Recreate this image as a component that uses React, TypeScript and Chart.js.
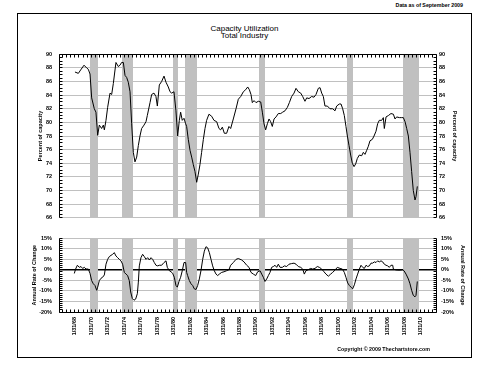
import React, { useEffect, useRef } from 'react';
import { Chart, registerables } from 'chart.js';

Chart.register(...registerables);

const FONT = '"Liberation Sans", Arial, sans-serif';
Chart.defaults.font.family = FONT;

// x range (decimal years)
const X_MIN = 1966.15;
const X_MAX = 2011.96;

// Capacity utilization, total industry (% of capacity)
const cuYears = [
  1968.09, 1968.5, 1968.78, 1969.19, 1969.51, 1969.71, 1969.92, 1970.12, 1970.44, 1970.64,
  1970.85, 1971.05, 1971.33, 1971.54, 1971.66, 1971.86, 1972.06, 1972.35, 1972.55, 1972.75,
  1973.07, 1973.36, 1973.56, 1973.76, 1973.97, 1974.17, 1974.37, 1974.57, 1974.78, 1974.98,
  1975.18, 1975.38, 1975.59, 1975.79, 1975.99, 1976.19, 1976.48, 1976.72, 1976.88, 1977.21,
  1977.41, 1977.69, 1977.93, 1978.1, 1978.34, 1978.62, 1978.91, 1979.15, 1979.43, 1979.64,
  1979.84, 1980.12, 1980.36, 1980.57, 1980.77, 1980.93, 1981.13, 1981.34, 1981.54, 1981.66,
  1981.86, 1982.07, 1982.27, 1982.47, 1982.67, 1982.88, 1983.08, 1983.28, 1983.48, 1983.69,
  1983.89, 1984.09, 1984.37, 1984.7, 1984.98, 1985.31, 1985.59, 1985.79, 1986.0, 1986.24,
  1986.52, 1986.8, 1987.01, 1987.33, 1987.66, 1987.94, 1988.23, 1988.55, 1988.83, 1989.08,
  1989.28, 1989.48, 1989.64, 1989.85, 1990.09, 1990.37, 1990.66, 1990.86, 1991.06, 1991.26,
  1991.47, 1991.67, 1991.87, 1992.07, 1992.28, 1992.52, 1992.8, 1993.09, 1993.33, 1993.61,
  1993.9, 1994.14, 1994.42, 1994.71, 1994.95, 1995.23, 1995.52, 1995.76, 1996.04, 1996.25,
  1996.53, 1996.85, 1997.14, 1997.38, 1997.66, 1997.87, 1998.07, 1998.27, 1998.47, 1998.76,
  1999.08, 1999.4, 1999.69, 1999.89, 2000.21, 2000.42, 2000.62, 2000.82, 2001.02, 2001.19,
  2001.39, 2001.59, 2001.79, 2002.0, 2002.2, 2002.4, 2002.64, 2002.93, 2003.13, 2003.33,
  2003.54, 2003.74, 2003.94, 2004.22, 2004.43, 2004.67, 2004.87, 2005.07, 2005.36, 2005.56,
  2005.68, 2005.89, 2006.17, 2006.49, 2006.78, 2006.98, 2007.18, 2007.51, 2007.79, 2007.99,
  2008.2, 2008.4, 2008.6, 2008.8, 2009.0, 2009.2, 2009.41, 2009.53, 2009.69,
];
const cuValues = [
  87.4, 87.2, 87.7, 88.4, 88.0, 87.8, 87.1, 83.6, 82.0, 81.5,
  78.1, 79.6, 79.1, 79.6, 78.9, 80.3, 82.2, 84.3, 84.1, 85.7,
  88.8, 88.2, 88.4, 88.8, 88.8, 86.9, 86.6, 85.9, 84.5, 79.8,
  75.6, 74.2, 74.9, 76.6, 78.0, 79.1, 79.6, 80.1, 81.0, 82.9,
  84.1, 84.3, 83.8, 82.4, 85.5, 86.0, 86.8, 85.9, 85.2, 84.5,
  84.3, 84.5, 81.7, 78.0, 80.3, 81.5, 80.3, 80.6, 79.8, 79.4,
  77.5, 75.9, 74.9, 73.8, 72.8, 71.2, 72.4, 73.8, 75.6, 77.5,
  79.1, 80.3, 81.2, 80.9, 80.3, 80.1, 79.1, 78.9, 79.3, 78.4,
  78.4, 79.4, 79.1, 80.5, 82.0, 83.4, 83.8, 84.5, 84.8, 85.2,
  84.8, 84.1, 82.9, 83.2, 82.9, 83.1, 83.0, 81.5, 79.8, 78.9,
  79.8, 80.5, 80.1, 79.4, 80.5, 80.8, 81.3, 81.3, 81.5, 81.7,
  82.2, 82.9, 83.8, 84.3, 85.0, 84.5, 84.3, 83.8, 83.1, 83.6,
  83.5, 83.8, 83.7, 84.1, 85.0, 85.1, 84.3, 83.8, 82.4, 82.4,
  82.0, 82.0, 81.7, 82.4, 82.7, 82.7, 82.0, 81.0, 79.4, 78.0,
  76.6, 75.2, 74.0, 73.5, 73.9, 74.7, 75.2, 75.1, 75.6, 75.3,
  75.9, 76.5, 77.3, 77.5, 78.0, 78.7, 79.8, 80.3, 80.3, 80.7,
  79.1, 80.8, 81.0, 81.3, 81.2, 80.5, 80.8, 80.7, 80.7, 80.7,
  80.1, 79.1, 78.0, 75.6, 72.8, 70.0, 68.6, 69.1, 70.6,
];

// Annual rate of change (%)
const rocYears = [
  1968.01, 1968.17, 1968.38, 1968.62, 1968.82, 1969.02, 1969.23, 1969.43, 1969.71, 1969.92,
  1970.12, 1970.32, 1970.52, 1970.73, 1970.85, 1971.05, 1971.25, 1971.45, 1971.66, 1971.86,
  1972.06, 1972.26, 1972.47, 1972.67, 1972.87, 1973.07, 1973.28, 1973.48, 1973.68, 1973.88,
  1974.09, 1974.29, 1974.49, 1974.69, 1974.86, 1975.06, 1975.26, 1975.46, 1975.67, 1975.79,
  1975.91, 1976.11, 1976.31, 1976.52, 1976.72, 1976.92, 1977.13, 1977.33, 1977.53, 1977.73,
  1977.93, 1978.14, 1978.34, 1978.62, 1978.91, 1979.15, 1979.31, 1979.56, 1979.76, 1979.96,
  1980.16, 1980.36, 1980.53, 1980.73, 1980.93, 1981.13, 1981.34, 1981.54, 1981.66, 1981.78,
  1981.99, 1982.19, 1982.39, 1982.59, 1982.8, 1983.0, 1983.2, 1983.4, 1983.61, 1983.81,
  1984.01, 1984.21, 1984.42, 1984.62, 1984.82, 1985.02, 1985.23, 1985.43, 1985.63, 1985.91,
  1986.2, 1986.52, 1986.8, 1987.01, 1987.33, 1987.66, 1987.94, 1988.35, 1988.63, 1988.96,
  1989.24, 1989.48, 1989.77, 1990.05, 1990.29, 1990.58, 1990.78, 1990.98, 1991.18, 1991.39,
  1991.59, 1991.79, 1991.99, 1992.2, 1992.4, 1992.6, 1992.8, 1993.01, 1993.29, 1993.53,
  1993.82, 1994.1, 1994.42, 1994.71, 1994.95, 1995.23, 1995.52, 1995.76, 1995.96, 1996.16,
  1996.45, 1996.73, 1996.97, 1997.26, 1997.54, 1997.79, 1998.07, 1998.35, 1998.59, 1998.88,
  1999.16, 1999.4, 1999.69, 1999.97, 2000.3, 2000.58, 2000.82, 2001.02, 2001.23, 2001.43,
  2001.63, 2001.83, 2002.04, 2002.24, 2002.44, 2002.65, 2002.85, 2003.05, 2003.25, 2003.46,
  2003.66, 2003.86, 2004.06, 2004.26, 2004.47, 2004.67, 2004.87, 2005.07, 2005.28, 2005.48,
  2005.68, 2005.89, 2006.09, 2006.29, 2006.49, 2006.7, 2006.78, 2006.98, 2007.26, 2007.59,
  2007.91, 2008.07, 2008.32, 2008.6, 2008.8, 2009.0, 2009.2, 2009.41, 2009.53, 2009.69,
];
const rocValues = [
  -1.7, 0.4, 2.2, 1.2, 1.6, 0.7, 1.2, 0.4, 0.4, -1.7,
  -5.1, -6.6, -7.4, -9.7, -8.2, -5.1, -4.0, -3.5, -2.4, 2.7,
  5.0, 6.3, 6.9, 7.4, 8.2, 6.6, 5.8, 5.0, 4.3, 2.7,
  -1.2, -2.0, -2.7, -5.1, -10.5, -13.6, -14.4, -13.9, -11.3, -5.8,
  1.9, 5.8, 7.4, 6.3, 5.0, 5.8, 4.7, 5.8, 5.0, 3.5,
  2.2, 1.9, 2.2, 2.2, 3.5, 4.3, 1.2, -0.4, -0.9, -1.6,
  -3.5, -7.4, -8.2, -5.5, -3.5, -0.4, 3.5, 3.5, -1.2, -2.7,
  -5.1, -6.6, -7.4, -9.0, -9.3, -7.4, -4.3, -0.4, 5.0, 8.9,
  11.0, 10.5, 8.2, 5.0, 1.9, -0.4, -2.0, -2.7, -2.0, -1.2,
  -0.9, -0.4, 0.1, 2.2, 3.5, 5.0, 5.4, 4.7, 3.8, 2.2,
  1.2, -1.2, -2.0, -2.7, -0.9, -0.4, -2.0, -3.5, -5.5, -4.3,
  -2.7, -1.2, 1.2, 1.6, 2.2, 1.2, 2.7, 1.2, 1.2, 1.9,
  1.6, 2.7, 3.0, 3.2, 2.7, 1.6, 1.2, 0.4, -2.0, -0.4,
  0.1, 0.7, 0.4, 0.7, 1.6, 1.2, 0.4, -0.9, -2.0, -3.0,
  -2.0, -1.2, -0.1, 1.2, 0.7, 0.4, -1.2, -3.5, -6.2, -7.4,
  -8.2, -9.0, -7.1, -4.3, -2.0, 0.4, 2.2, 1.2, 0.7, 2.2,
  1.6, 1.9, 3.2, 3.2, 3.8, 3.5, 4.3, 3.8, 4.3, 3.8,
  2.7, 2.2, 1.9, 1.2, 2.2, 2.2, 0.4, 0.1, -0.1, -0.1,
  0.1, -0.4, -2.0, -4.3, -6.6, -9.7, -12.1, -12.8, -12.1, -5.5,
];

// Recession periods (shaded)
const recessionStarts = [1969.92, 1973.83, 1980.0, 1981.5, 1990.5, 2001.17, 2007.92];
const recessionEnds = [1970.85, 1975.2, 1980.58, 1982.88, 1991.18, 2001.85, 2009.85];

// x-axis tick labels
const xTickYears = [
  1968.08, 1970.08, 1972.08, 1974.08, 1976.08, 1978.08, 1980.08, 1982.08, 1984.08, 1986.08, 1988.08,
  1990.08, 1992.08, 1994.08, 1996.08, 1998.08, 2000.08, 2002.08, 2004.08, 2006.08, 2008.08, 2010.08,
];
const xTickLabels = [
  '1/31/68', '1/31/70', '1/31/72', '1/31/74', '1/31/76', '1/31/78', '1/31/80', '1/31/82', '1/31/84', '1/31/86', '1/31/88',
  '1/31/90', '1/31/92', '1/31/94', '1/31/96', '1/31/98', '1/31/00', '1/31/02', '1/31/04', '1/31/06', '1/31/08', '1/31/10',
];

const BAND = '#c0c0c0';
const GRID = '#c0c0c0';
const TICK_FONT = { size: 5.5, family: FONT, weight: 'bold' };

const bandsPlugin = {
  id: 'recessionBands',
  beforeDatasetsDraw(chart: any) {
    const { ctx, chartArea: a } = chart;
    const xs = chart.scales.x;
    ctx.save();
    ctx.fillStyle = BAND;
    for (let i = 0; i < recessionStarts.length; i++) {
      const x0 = Math.round(xs.getPixelForValue(recessionStarts[i]));
      const x1 = Math.round(xs.getPixelForValue(Math.min(recessionEnds[i], X_MAX)));
      ctx.fillRect(x0, a.top, x1 - x0, a.bottom - a.top);
    }
    ctx.restore();
  },
};

function decoPlugin(edge: 'top' | 'bottom', yMin: number, yMax: number, yMinor: number) {
  return {
    id: 'axisDeco',
    afterDatasetsDraw(chart: any) {
      const { ctx, chartArea: a } = chart;
      const xs = chart.scales.x;
      const ys = chart.scales.y;
      const L = Math.floor(a.left) + 0.5;
      const R = Math.floor(a.right) + 0.5;
      const T = Math.floor(a.top) + 0.5;
      const B = Math.floor(a.bottom) + 0.5;
      ctx.save();
      ctx.strokeStyle = '#000';
      ctx.lineWidth = 1;
      ctx.beginPath();
      ctx.moveTo(L, T);
      ctx.lineTo(L, B);
      ctx.moveTo(R, T);
      ctx.lineTo(R, B);
      const E = edge === 'top' ? T : B;
      ctx.moveTo(L, E);
      ctx.lineTo(R, E);
      for (let v = yMin; v <= yMax + 1e-9; v += yMinor) {
        const y = Math.floor(ys.getPixelForValue(v)) + 0.5;
        ctx.moveTo(L, y);
        ctx.lineTo(L + 3, y);
        ctx.moveTo(R - 3, y);
        ctx.lineTo(R, y);
      }
      let t = xTickYears[0];
      while (t - 0.5 >= X_MIN) t -= 0.5;
      for (; t <= X_MAX; t += 0.5) {
        const x = Math.floor(xs.getPixelForValue(t)) + 0.5;
        if (edge === 'top') {
          ctx.moveTo(x, E);
          ctx.lineTo(x, E + 3);
        } else {
          ctx.moveTo(x, E);
          ctx.lineTo(x, E - 3);
        }
      }
      ctx.stroke();
      ctx.restore();
    },
  };
}

function yAxis(position: 'left' | 'right', min: number, max: number, step: number, title: string,
  width: number, labelPad: number, titlePad: number, grid: boolean, fmt?: (v: number) => string) {
  return {
    position,
    min,
    max,
    ticks: {
      stepSize: step,
      font: TICK_FONT,
      color: '#000',
      padding: labelPad,
      callback: (v: any) => (fmt ? fmt(Number(v)) : String(v)),
    },
    grid: grid
      ? {
          color: (c: any) => (c.tick && c.tick.value === 0 && min < 0 ? '#000' : GRID),
          lineWidth: (c: any) => (c.tick && c.tick.value === 0 && min < 0 ? 1.5 : 1),
          drawTicks: false,
        }
      : { display: false, drawTicks: false },
    border: { display: false },
    title: {
      display: true,
      text: title,
      color: '#000',
      font: { size: 5.5, family: FONT, weight: 'bold' },
      padding: { top: titlePad, bottom: 0 },
    },
    afterFit: (s: any) => {
      s.width = width;
    },
  };
}

export default function App() {
  const topRef = useRef<HTMLCanvasElement>(null);
  const botRef = useRef<HTMLCanvasElement>(null);

  useEffect(() => {
    const top = new Chart(topRef.current as HTMLCanvasElement, {
      type: 'line',
      data: {
        datasets: [
          {
            data: cuYears.map((x, i) => ({ x, y: cuValues[i] })),
            borderColor: '#000',
            borderWidth: 1,
            pointRadius: 0,
            tension: 0,
            fill: false,
          },
        ],
      },
      options: {
        responsive: false,
        animation: false,
        events: [],
        layout: { padding: { top: 7, bottom: 6, left: 0, right: 0 } },
        plugins: { legend: { display: false }, tooltip: { enabled: false } },
        scales: {
          x: { type: 'linear', min: X_MIN, max: X_MAX, display: false },
          y: yAxis('left', 66, 90, 2, 'Percent of capacity', 41, 7, 19, true),
          y2: yAxis('right', 66, 90, 2, 'Percent of capacity', 34, 3, 12, false),
        },
      } as any,
      plugins: [bandsPlugin, decoPlugin('top', 66, 90, 0.5)],
    });

    const pct = (v: number) => `${v}%`;
    const bot = new Chart(botRef.current as HTMLCanvasElement, {
      type: 'line',
      data: {
        datasets: [
          {
            data: rocYears.map((x, i) => ({ x, y: rocValues[i] })),
            borderColor: '#000',
            borderWidth: 1,
            pointRadius: 0,
            tension: 0,
            fill: false,
          },
        ],
      },
      options: {
        responsive: false,
        animation: false,
        events: [],
        layout: { padding: { top: 9, bottom: 0, left: 0, right: 0 } },
        plugins: { legend: { display: false }, tooltip: { enabled: false } },
        scales: {
          x: {
            type: 'linear',
            min: X_MIN,
            max: X_MAX,
            afterBuildTicks: (s: any) => {
              s.ticks = xTickYears.map((v) => ({ value: v }));
            },
            ticks: {
              autoSkip: false,
              minRotation: 90,
              maxRotation: 90,
              font: TICK_FONT,
              color: '#000',
              padding: 5,
              callback: (_v: any, i: number) => xTickLabels[i],
            },
            grid: { display: false, drawTicks: false },
            border: { display: false },
            afterFit: (s: any) => {
              s.height = 36;
            },
          },
          y: yAxis('left', -20, 15, 5, 'Annual Rate of Change', 41, 7, 13, true, pct),
          y2: yAxis('right', -20, 15, 5, 'Annual Rate of Change', 34, 5, 4, false, pct),
        },
      } as any,
      plugins: [bandsPlugin, decoPlugin('bottom', -20, 15, 1)],
    });

    return () => {
      top.destroy();
      bot.destroy();
    };
  }, []);

  const small: React.CSSProperties = {
    position: 'absolute',
    fontFamily: FONT,
    fontSize: '5.3px',
    fontWeight: 'bold',
    lineHeight: '6px',
    color: '#000',
    whiteSpace: 'nowrap',
  };

  return (
    <div style={{ position: 'fixed', left: 0, top: 0, width: 482, height: 368, background: '#fff', overflow: 'hidden' }}>
      <div style={{ ...small, right: 19, top: 2 }}>Data as of September 2009</div>
      <div
        style={{
          position: 'absolute',
          left: 17,
          top: 13,
          width: 455,
          height: 345,
          border: '1px solid #000',
          boxSizing: 'border-box',
        }}
      />
      <div
        style={{
          position: 'absolute',
          left: 17,
          top: 25,
          width: 455,
          textAlign: 'center',
          fontFamily: FONT,
          fontSize: '8px',
          lineHeight: '7px',
          color: '#000',
        }}
      >
        <div>Capacity Utilization</div>
        <div>Total Industry</div>
      </div>
      <canvas ref={topRef} width={452} height={184} style={{ position: 'absolute', left: 18, top: 44 }} />
      <canvas ref={botRef} width={452} height={120} style={{ position: 'absolute', left: 18, top: 228 }} />
      <div style={{ ...small, right: 52, top: 346 }}>Copyright © 2009 Thechartstore.com</div>
    </div>
  );
}
